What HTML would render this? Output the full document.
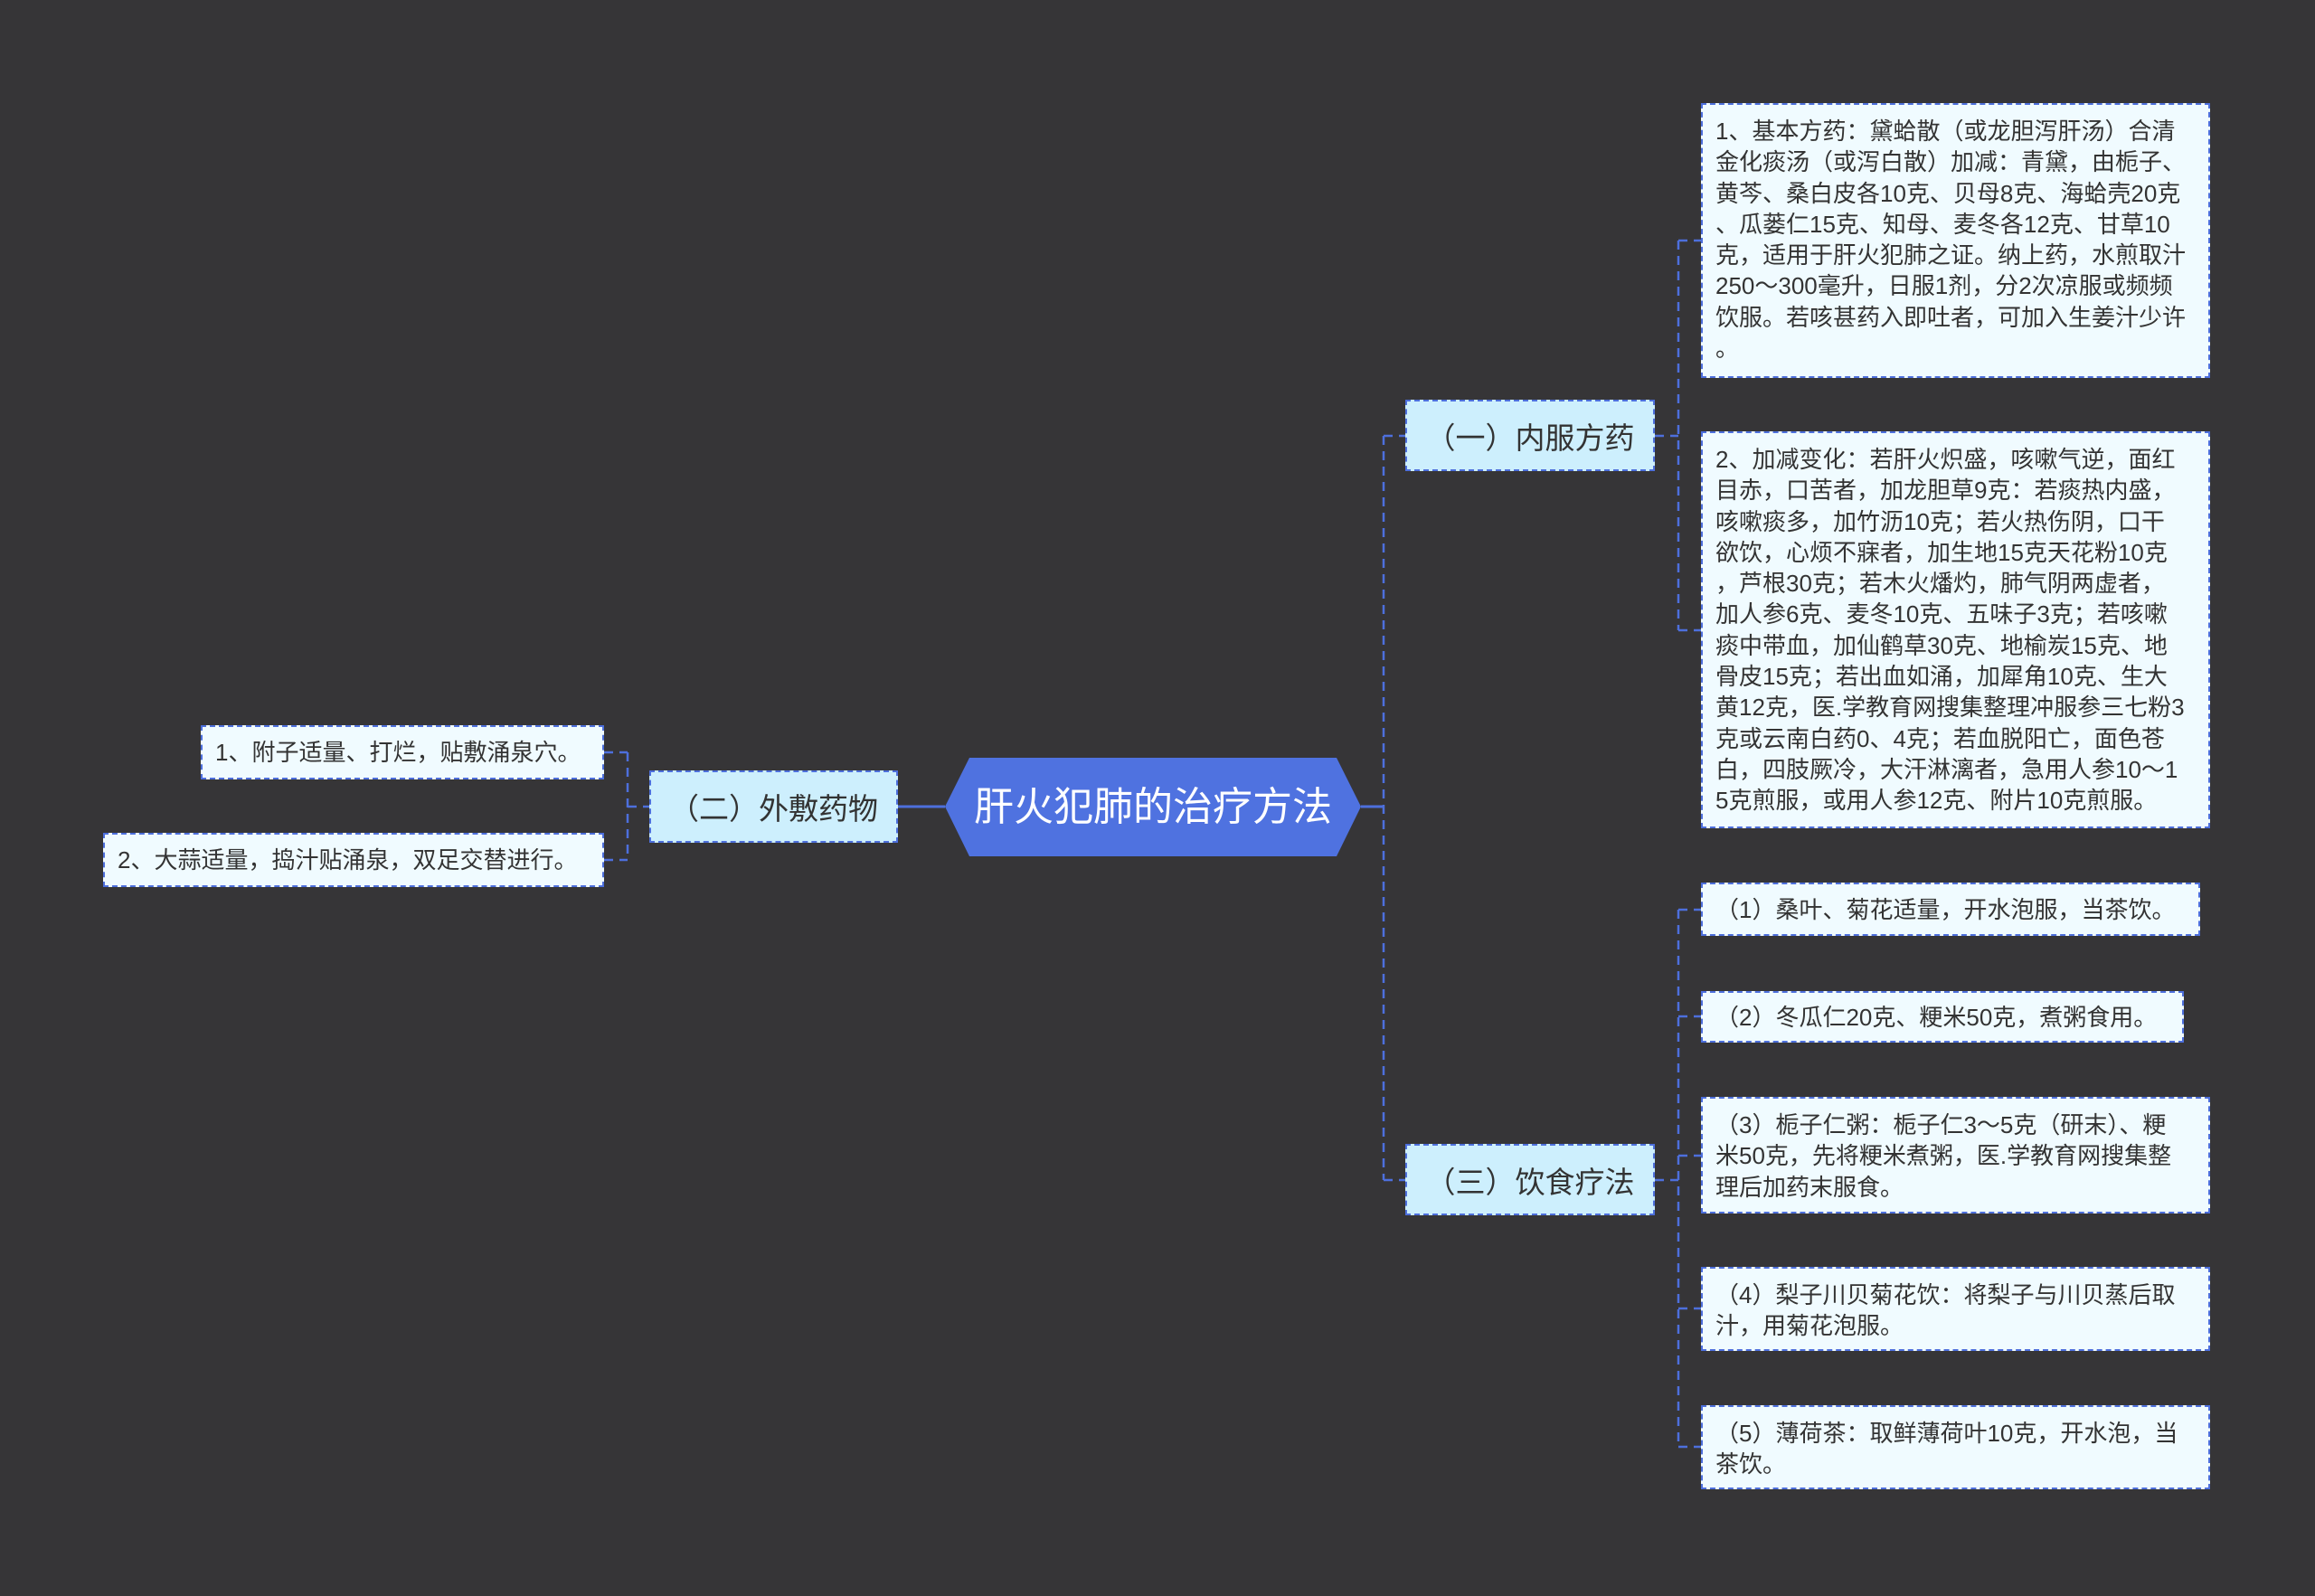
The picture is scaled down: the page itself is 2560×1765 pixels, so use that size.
<!DOCTYPE html>
<html><head><meta charset="utf-8"><style>
html,body{margin:0;padding:0;}
body{width:2560px;height:1765px;background:#363537;position:relative;overflow:hidden;font-family:"Liberation Sans","Noto Sans CJK SC",sans-serif;}
.b{position:absolute;box-sizing:border-box;border:2px dashed #4d6fdc;background:#f0fbff;color:#333;font-size:26px;line-height:34.3px;padding:12px 0 0 14px;white-space:nowrap;}
.m{position:absolute;box-sizing:border-box;border:2px dashed #4d6fdc;background:#cdeffd;color:#333;font-size:33px;display:flex;align-items:center;justify-content:center;}
svg{position:absolute;left:0;top:0;}
</style></head><body>
<svg width="2560" height="1765">
<g stroke="#4d6fdc" stroke-width="2.5" fill="none" stroke-dasharray="10,7">
<line x1="1530" y1="482" x2="1530" y2="1305"/>
<line x1="1530" y1="482" x2="1554" y2="482"/>
<line x1="1530" y1="1305" x2="1554" y2="1305"/>
<line x1="1856" y1="266" x2="1856" y2="697"/>
<line x1="1830" y1="482" x2="1856" y2="482"/>
<line x1="1856" y1="266" x2="1881" y2="266"/>
<line x1="1856" y1="697" x2="1881" y2="697"/>
<line x1="1856" y1="1006" x2="1856" y2="1600"/>
<line x1="1830" y1="1305" x2="1856" y2="1305"/>
<line x1="1856" y1="1006" x2="1881" y2="1006"/>
<line x1="1856" y1="1124" x2="1881" y2="1124"/>
<line x1="1856" y1="1278" x2="1881" y2="1278"/>
<line x1="1856" y1="1447" x2="1881" y2="1447"/>
<line x1="1856" y1="1600" x2="1881" y2="1600"/>
<line x1="694" y1="832" x2="694" y2="951"/>
<line x1="668" y1="832" x2="694" y2="832"/>
<line x1="668" y1="951" x2="694" y2="951"/>
<line x1="694" y1="892" x2="718" y2="892"/>
</g>
<g stroke="#4d6fdc" stroke-width="3">
<line x1="1505" y1="892" x2="1530" y2="892"/>
<line x1="993" y1="892" x2="1045" y2="892"/>
</g>
<polygon points="1072,838 1478,838 1505,892 1478,947 1072,947 1045,892" fill="#4f72e0"/>
<text x="1275" y="907" fill="#fff" font-size="44" text-anchor="middle" font-family="Liberation Sans, Noto Sans CJK SC, sans-serif">肝火犯肺的治疗方法</text>
</svg>
<div class="m" style="left:1554px;top:442px;width:276px;height:79px;">（一）内服方药</div>
<div class="m" style="left:718px;top:852px;width:275px;height:80px;">（二）外敷药物</div>
<div class="m" style="left:1554px;top:1265px;width:276px;height:79px;">（三）饮食疗法</div>
<div class="b" style="left:1881px;top:114px;width:563px;height:304px;">1、基本方药：黛蛤散（或龙胆泻肝汤）合清<br>金化痰汤（或泻白散）加减：青黛，由栀子、<br>黄芩、桑白皮各10克、贝母8克、海蛤壳20克<br>、瓜蒌仁15克、知母、麦冬各12克、甘草10<br>克，适用于肝火犯肺之证。纳上药，水煎取汁<br>250～300毫升，日服1剂，分2次凉服或频频<br>饮服。若咳甚药入即吐者，可加入生姜汁少许<br>。</div>
<div class="b" style="left:1881px;top:477px;width:563px;height:439px;">2、加减变化：若肝火炽盛，咳嗽气逆，面红<br>目赤，口苦者，加龙胆草9克：若痰热内盛，<br>咳嗽痰多，加竹沥10克；若火热伤阴，口干<br>欲饮，心烦不寐者，加生地15克天花粉10克<br>，芦根30克；若木火燔灼，肺气阴两虚者，<br>加人参6克、麦冬10克、五味子3克；若咳嗽<br>痰中带血，加仙鹤草30克、地榆炭15克、地<br>骨皮15克；若出血如涌，加犀角10克、生大<br>黄12克，医.学教育网搜集整理冲服参三七粉3<br>克或云南白药0、4克；若血脱阳亡，面色苍<br>白，四肢厥冷，大汗淋漓者，急用人参10～1<br>5克煎服，或用人参12克、附片10克煎服。</div>
<div class="b" style="left:222px;top:802px;width:446px;height:60px;padding-top:11px;">1、附子适量、打烂，贴敷涌泉穴。</div>
<div class="b" style="left:114px;top:921px;width:554px;height:60px;padding-top:11px;">2、大蒜适量，捣汁贴涌泉，双足交替进行。</div>
<div class="b" style="left:1881px;top:976px;width:552px;height:59px;padding-top:11px;">（1）桑叶、菊花适量，开水泡服，当茶饮。</div>
<div class="b" style="left:1881px;top:1096px;width:534px;height:57px;padding-top:10px;">（2）冬瓜仁20克、粳米50克，煮粥食用。</div>
<div class="b" style="left:1881px;top:1213px;width:563px;height:129px;">（3）栀子仁粥：栀子仁3～5克（研末）、粳<br>米50克，先将粳米煮粥，医.学教育网搜集整<br>理后加药末服食。</div>
<div class="b" style="left:1881px;top:1401px;width:563px;height:93px;">（4）梨子川贝菊花饮：将梨子与川贝蒸后取<br>汁，用菊花泡服。</div>
<div class="b" style="left:1881px;top:1554px;width:563px;height:93px;">（5）薄荷茶：取鲜薄荷叶10克，开水泡，当<br>茶饮。</div>
</body></html>
